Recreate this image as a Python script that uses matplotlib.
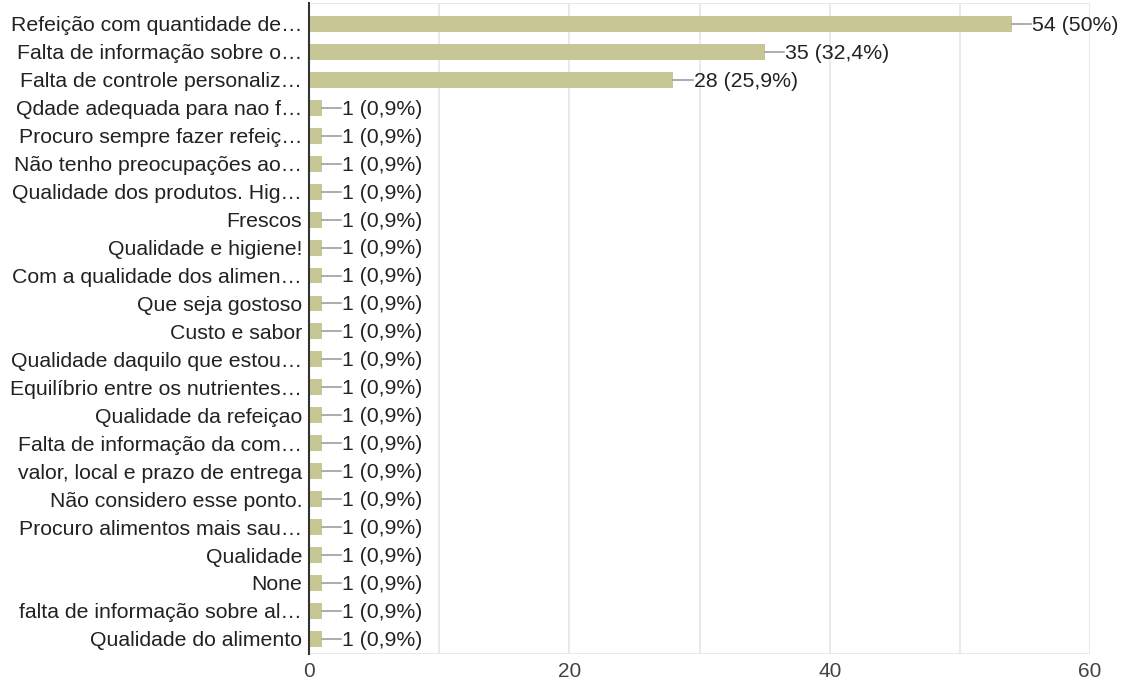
import matplotlib.pyplot as plt

labels = [
    "Refeição com quantidade de…",
    "Falta de informação sobre o…",
    "Falta de controle personaliz…",
    "Qdade adequada para nao f…",
    "Procuro sempre fazer refeiç…",
    "Não tenho preocupações ao…",
    "Qualidade dos produtos. Hig…",
    "Frescos",
    "Qualidade e higiene!",
    "Com a qualidade dos alimen…",
    "Que seja gostoso",
    "Custo e sabor",
    "Qualidade daquilo que estou…",
    "Equilíbrio entre os nutrientes…",
    "Qualidade da refeiçao",
    "Falta de informação da com…",
    "valor, local e prazo de entrega",
    "Não considero esse ponto.",
    "Procuro alimentos mais sau…",
    "Qualidade",
    "None",
    "falta de informação sobre al…",
    "Qualidade do alimento",
]
counts = [54, 35, 28] + [1] * 20
percents = ["50%", "32,4%", "25,9%"] + ["0,9%"] * 20
x_ticks = [0, 20, 40, 60]

plt.rcParams['font.family'] = ['Liberation Sans', 'DejaVu Sans']

fig = plt.figure(figsize=(11.21, 6.84), dpi=100)
ax = fig.add_axes([0.2756, 0.0439, 0.6968, 0.9517])

ypos = list(range(len(labels)))
ax.barh(ypos, counts, height=0.57, color='#c7c695', zorder=3)

for y, c, p in zip(ypos, counts, percents):
    ax.plot([c, c + 1.5], [y, y], color='#9e9e9e', lw=1.2, zorder=3)
    ax.text(c + 1.55, y + 0.05, f"{c} ({p})", va='center', ha='left',
            fontsize=15.3, color='#222222')

ax.set_xlim(0, 60)
ax.set_ylim(22.54, -0.75)
ax.set_yticks(ypos)
ax.set_yticklabels(labels, fontsize=15.3, color='#222222')
ax.set_xticks(x_ticks)
ax.set_xticklabels([str(t) for t in x_ticks], fontsize=15, color='#444444')
ax.tick_params(axis='both', length=0)
ax.tick_params(axis='y', pad=5)
ax.tick_params(axis='x', pad=6)

for gx in range(10, 61, 10):
    ax.axvline(gx, color='#e6e6e6', lw=1.2, zorder=0)

for s in ['top', 'bottom', 'right']:
    ax.spines[s].set_visible(False)
ax.axhline(-0.75, color='#e6e6e6', lw=1.2, zorder=0)
ax.axhline(22.54, color='#e6e6e6', lw=1.2, zorder=0)
ax.spines['left'].set_color('#333333')
ax.spines['left'].set_linewidth(1.5)
ax.spines['left'].set_zorder(4)

fig.savefig('out.png', dpi=100)
